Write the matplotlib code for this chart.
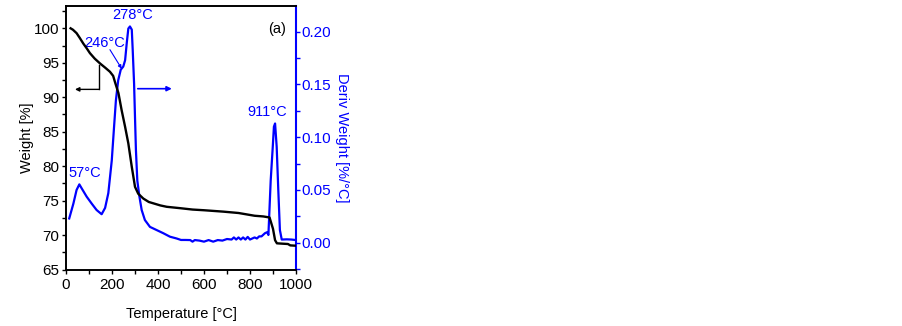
import matplotlib
matplotlib.use("Agg")
import matplotlib.pyplot as plt
from matplotlib.ticker import MultipleLocator

plt.rcParams['font.family'] = ['Liberation Sans', 'DejaVu Sans']

# TGA weight curve (black, left axis)
temp_w = [20, 30, 46, 60, 75, 90, 104, 125, 148, 170, 191, 205, 213, 228, 242,
          257, 271, 286, 300, 314, 336, 360, 380, 410, 438, 467, 496, 550, 600,
          683, 750, 820, 858, 885, 900, 909, 917, 940, 965, 975, 1000]
weight = [100.0, 99.8, 99.3, 98.6, 97.8, 97.1, 96.4, 95.6, 94.9, 94.3, 93.7,
          93.1, 92.2, 90.6, 88.1, 85.7, 83.3, 79.9, 77.0, 76.0, 75.3, 74.8,
          74.6, 74.3, 74.1, 74.0, 73.9, 73.7, 73.6, 73.4, 73.2, 72.8, 72.7,
          72.55, 70.9, 69.25, 68.8, 68.75, 68.7, 68.5, 68.45]

# Derivative weight curve (blue, right axis)
temp_d = [14, 32, 46, 58, 68, 90, 112, 133, 155, 170, 184, 199, 209, 217, 227,
          238, 249, 257, 264, 271, 278, 286, 290, 296, 300, 304, 310, 319, 329,
          343, 365, 394, 423, 452, 481, 500, 520, 540, 550, 560, 580, 600, 620,
          640, 660, 680, 700, 720, 730, 740, 750, 760, 770, 780, 790, 800, 810,
          820, 830, 840, 850, 865, 875, 880, 890, 899, 904, 909, 916, 923, 930,
          938, 960, 980, 1000]
deriv = [0.023, 0.037, 0.050, 0.0553, 0.0516, 0.0436, 0.037, 0.031, 0.027,
         0.033, 0.047, 0.078, 0.110, 0.135, 0.154, 0.164, 0.167, 0.173, 0.189,
         0.203, 0.205, 0.202, 0.183, 0.151, 0.119, 0.088, 0.059, 0.044, 0.031,
         0.0215, 0.015, 0.012, 0.009, 0.0057, 0.004, 0.0026, 0.0026, 0.0025,
         0.001, 0.0025, 0.002, 0.001, 0.0025, 0.001, 0.0025, 0.002, 0.0035,
         0.003, 0.005, 0.003, 0.005, 0.003, 0.005, 0.003, 0.0055, 0.003, 0.004,
         0.005, 0.004, 0.006, 0.006, 0.009, 0.010, 0.0073, 0.059, 0.091, 0.110,
         0.113, 0.091, 0.050, 0.012, 0.003, 0.0032, 0.003, 0.0025]

BLUE = '#0000ff'

fig = plt.figure(figsize=(9.03, 3.26), dpi=100)
ax = fig.add_axes([66/903, 1-269.5/326, 230/903, 263.5/326])
ax2 = ax.twinx()

ax.plot(temp_w, weight, color='black', lw=1.7, zorder=3)
ax2.plot(temp_d, deriv, color=BLUE, lw=1.6)

ax.set_xlim(0, 1000)
ax.set_ylim(65, 103.24)
ax2.set_ylim(-0.0254, 0.2244)

ax.xaxis.set_major_locator(MultipleLocator(200))
ax.xaxis.set_minor_locator(MultipleLocator(100))
ax.yaxis.set_major_locator(MultipleLocator(5))
ax.yaxis.set_minor_locator(MultipleLocator(2.5))
ax2.yaxis.set_major_locator(MultipleLocator(0.05))
ax2.yaxis.set_minor_locator(MultipleLocator(0.025))
ax2.yaxis.set_major_formatter(matplotlib.ticker.FormatStrFormatter('%.2f'))

fs = 10.5
tfs = 11
ax.tick_params(axis='x', which='both', direction='out', length=3, width=1,
               labelsize=tfs, pad=3)
ax.tick_params(axis='y', which='both', direction='out', length=3, width=1,
               labelsize=tfs, pad=2)
ax2.tick_params(axis='y', which='both', direction='out', length=3, width=1,
                labelsize=tfs, pad=1, colors=BLUE)

for sp in ['left', 'bottom', 'top']:
    ax.spines[sp].set_linewidth(1.2)
    ax2.spines[sp].set_linewidth(1.2)
ax2.spines['right'].set_color(BLUE)
ax2.spines['right'].set_linewidth(1.5)
ax.spines['right'].set_visible(False)

ax.set_xlabel('Temperature [°C]', fontsize=fs, labelpad=11)
ax.set_ylabel('Weight [%]', fontsize=fs, labelpad=0)
ax2.set_ylabel('Deriv Weight [%/°C]', fontsize=fs, color=BLUE, rotation=270,
               labelpad=13)

ax.set_zorder(ax2.get_zorder() + 1)
ax.patch.set_visible(False)

# annotations
ax2.text(288, 0.216, '278°C', color=BLUE, fontsize=fs, ha='center', va='center')
ax2.text(170, 0.189, '246°C', color=BLUE, fontsize=fs, ha='center', va='center')
ax2.annotate('', xy=(242, 0.165), xytext=(191, 0.183),
             arrowprops=dict(arrowstyle='-|>', color=BLUE, lw=0.8,
                             mutation_scale=5, shrinkA=0, shrinkB=0))
ax2.text(83, 0.066, '57°C', color=BLUE, fontsize=fs, ha='center', va='center')
ax2.text(875, 0.124, '911°C', color=BLUE, fontsize=fs, ha='center', va='center')
ax2.text(916, 0.2026, '(a)', color='black', fontsize=fs, ha='center', va='center')
ax2.annotate('', xy=(460, 0.146), xytext=(312, 0.146),
             arrowprops=dict(arrowstyle='-|>', color=BLUE, lw=1.2,
                             mutation_scale=7, shrinkA=0, shrinkB=0))
ax.plot([145, 145], [94.67, 91.14], color='black', lw=1.0)
ax.annotate('', xy=(39, 91.14), xytext=(145, 91.14),
            arrowprops=dict(arrowstyle='-|>', color='black', lw=1.0,
                            mutation_scale=6, shrinkA=0, shrinkB=0))

fig.savefig('out.png', dpi=100)
